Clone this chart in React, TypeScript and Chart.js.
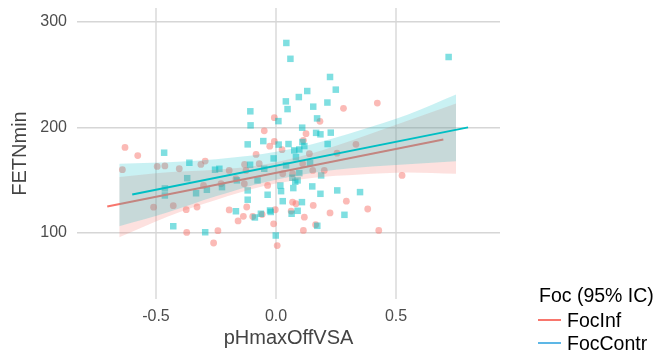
import React, { useEffect, useRef } from "react";
import { Chart, registerables } from "chart.js";

Chart.register(...registerables);

// ---- data ----
const infX = [-0.629, -0.576, -0.64, -0.495, -0.463, -0.403, -0.313, -0.295, -0.131, -0.083, -0.302, -0.51, -0.428, -0.374, -0.329, -0.372, -0.242, -0.26, -0.195, -0.122, -0.158, -0.136, -0.097, -0.058, -0.132, -0.007, -0.049, -0.026, -0.007, -0.003, -0.01, 0.005, 0.069, 0.083, 0.063, 0.118, 0.155, 0.114, 0.165, 0.225, 0.293, 0.382, 0.428, 0.525, 0.281, 0.422, 0.183, 0.125, 0.333, 0.114, -0.07, 0.025, 0.139, 0.111, 0.069, 0.153, 0.201, 0.254, 0.028, -0.167, -0.035, -0.125, -0.195, -0.229];
const infY = [181.0, 173.3, 159.9, 163.0, 163.5, 160.8, 164.9, 168.1, 164.9, 174.4, 145.0, 124.4, 125.9, 122.1, 124.6, 100.5, 102.2, 90.5, 121.8, 124.6, 111.4, 115.8, 115.6, 117.5, 146.6, 209.2, 196.7, 182.2, 186.7, 122.0, 108.7, 88.1, 129.2, 127.7, 120.7, 115.0, 126.1, 102.4, 107.9, 119.0, 130.1, 122.7, 102.4, 154.5, 218.0, 223.0, 205.7, 194.0, 183.9, 187.7, 165.6, 178.9, 175.1, 165.6, 156.1, 159.2, 159.2, 175.6, 156.1, 151.4, 145.0, 159.2, 159.2, 146.6];

const contrX = [-0.466, -0.107, -0.106, -0.118, -0.361, -0.254, -0.37, -0.463, -0.463, -0.333, -0.288, -0.428, -0.295, -0.225, -0.163, -0.167, -0.118, -0.088, -0.118, 0.01, 0.041, 0.048, 0.095, 0.109, -0.053, 0.011, 0.052, 0.11, -0.01, -0.108, -0.035, 0.018, 0.021, 0.072, 0.08, 0.068, 0.028, -0.063, -0.025, -0.022, 0.065, 0.09, -0.001, 0.108, 0.151, 0.185, 0.255, 0.35, 0.285, 0.172, 0.043, 0.06, 0.225, 0.249, 0.13, 0.155, 0.214, 0.719, 0.171, 0.167, 0.185, 0.228, 0.215, 0.076, 0.097, 0.118, 0.083, 0.042, 0.142, 0.097, 0.188, -0.049, 0.09, -0.077, -0.236];
const contrY = [176.0, 215.2, 201.9, 183.9, 166.5, 159.9, 151.9, 142.2, 135.5, 137.6, 140.9, 106.4, 100.7, 143.4, 149.8, 120.6, 131.5, 114.7, 140.3, 205.9, 224.6, 217.3, 228.7, 199.7, 187.0, 183.7, 184.2, 186.1, 170.6, 164.6, 136.2, 145.0, 139.6, 142.5, 148.5, 152.3, 130.1, 118.2, 121.3, 119.9, 118.2, 121.0, 97.6, 129.2, 144.1, 137.1, 140.3, 138.7, 117.2, 106.8, 279.9, 264.9, 247.7, 235.7, 234.4, 219.6, 223.5, 266.6, 208.5, 194.8, 193.4, 195.0, 184.2, 178.2, 179.1, 182.3, 171.8, 164.0, 166.2, 156.7, 154.5, 160.8, 149.8, 149.8, 160.8];

const infLineX = [-0.703, 0.697];
const infLineY = [125.1, 188.6];
const contrLineX = [-0.599, 0.8];
const contrLineY = [136.5, 200.0];

const ribbonX = [-0.653, -0.45, -0.25, -0.05, 0.15, 0.35, 0.55, 0.75];
const infUpper = [153.0, 157.5, 159.9, 164.8, 175.5, 190.4, 206.5, 222.5];
const infLower = [96.0, 115.7, 131.3, 144.4, 152.1, 155.4, 157.3, 156.1];
const contrUpper = [165.6, 166.9, 169.9, 175.0, 184.1, 197.2, 212.2, 231.0];
const contrLower = [106.4, 119.7, 134.7, 147.8, 156.9, 162.0, 165.0, 168.0];

const xTicks = [-0.5, 0, 0.5];
const yTicks = [100, 200, 300];

const seriesNames = ["FocInf", "FocContr"];
const legendTitle = "Foc (95% IC)";

const RED = "#F8766D";
const TEAL = "#00BFC4";
const FONT = '"Liberation Sans", Arial, Helvetica, sans-serif';

const zip = (xs: number[], ys: number[]) => xs.map((x, i) => ({ x, y: ys[i] }));

const legendPlugin = {
  id: "customLegend",
  afterDraw(chart: any) {
    const ctx = chart.ctx;
    ctx.save();
    ctx.fillStyle = "#000";
    ctx.textBaseline = "alphabetic";
    ctx.textAlign = "left";
    ctx.font = `19.5px ${FONT}`;
    ctx.fillText(legendTitle, 539, 302);
    const keys = [RED, "#5DB7E6"];
    const ys = [320, 343];
    keys.forEach((c, i) => {
      ctx.strokeStyle = c;
      ctx.lineWidth = 2;
      ctx.beginPath();
      ctx.moveTo(538, ys[i]);
      ctx.lineTo(561, ys[i]);
      ctx.stroke();
      ctx.fillStyle = "#000";
      ctx.fillText(seriesNames[i], 567, ys[i] + 6.5);
    });
    ctx.restore();
  },
};

export default function App() {
  const ref = useRef<HTMLCanvasElement | null>(null);
  useEffect(() => {
    if (!ref.current) return;
    Chart.defaults.font.family = FONT;
    const chart = new Chart(ref.current, {
      type: "scatter",
      data: {
        datasets: [
          {
            type: "line",
            data: zip(contrLineX, contrLineY),
            borderColor: TEAL,
            borderWidth: 2,
            pointRadius: 0,
            fill: false,
            order: 0,
          } as any,
          {
            type: "line",
            data: zip(ribbonX, contrUpper),
            borderColor: "rgba(0,0,0,0)",
            borderWidth: 0,
            pointRadius: 0,
            backgroundColor: "rgba(0,191,196,0.21)",
            fill: 2,
            cubicInterpolationMode: "monotone",
            order: 1,
          },
          {
            type: "line",
            data: zip(ribbonX, contrLower),
            borderColor: "rgba(0,0,0,0)",
            borderWidth: 0,
            pointRadius: 0,
            fill: false,
            cubicInterpolationMode: "monotone",
            order: 1,
          },
          {
            type: "line",
            data: zip(infLineX, infLineY),
            borderColor: RED,
            borderWidth: 2,
            pointRadius: 0,
            fill: false,
            order: 2,
          },
          {
            type: "line",
            data: zip(ribbonX, infUpper),
            borderColor: "rgba(0,0,0,0)",
            borderWidth: 0,
            pointRadius: 0,
            backgroundColor: "rgba(248,118,109,0.22)",
            fill: 5,
            cubicInterpolationMode: "monotone",
            order: 3,
          },
          {
            type: "line",
            data: zip(ribbonX, infLower),
            borderColor: "rgba(0,0,0,0)",
            borderWidth: 0,
            pointRadius: 0,
            fill: false,
            cubicInterpolationMode: "monotone",
            order: 3,
          },
          {
            type: "scatter",
            data: zip(contrX, contrY),
            pointStyle: "rect",
            pointRadius: 4.6,
            pointBorderWidth: 0,
            backgroundColor: "rgba(0,191,196,0.5)",
            borderColor: "rgba(0,0,0,0)",
            order: 4,
          },
          {
            type: "scatter",
            data: zip(infX, infY),
            pointStyle: "circle",
            pointRadius: 3.4,
            pointBorderWidth: 0,
            backgroundColor: "rgba(248,118,109,0.5)",
            borderColor: "rgba(0,0,0,0)",
            order: 5,
          },
        ] as any,
      },
      options: {
        animation: false,
        responsive: false,
        devicePixelRatio: 1,
        layout: { padding: { top: 8, right: 157, left: 0, bottom: 0 } },
        plugins: {
          legend: { display: false },
          tooltip: { enabled: false },
        },
        scales: {
          x: {
            type: "linear",
            min: -0.829,
            max: 0.933,
            afterBuildTicks: (s: any) => {
              s.ticks = xTicks.map((v) => ({ value: v }));
            },
            afterFit: (s: any) => {
              s.height = 51;
              s.paddingLeft = 0;
              s.paddingRight = 0;
            },
            ticks: {
              padding: 8,
              color: "#4D4D4D",
              font: { size: 16, family: FONT },
              callback: (v: any) => Number(v).toFixed(1),
            },
            grid: { color: "#e3e3e3", lineWidth: 2, drawTicks: false },
            border: { display: false },
            title: {
              display: true,
              text: "pHmaxOffVSA",
              color: "#444",
              font: { size: 20, family: FONT },
              padding: { top: 0, bottom: 0 },
            },
          },
          y: {
            type: "linear",
            min: 37.5,
            max: 313,
            afterBuildTicks: (s: any) => {
              s.ticks = yTicks.map((v) => ({ value: v }));
            },
            afterFit: (s: any) => {
              s.width = 77;
              s.paddingTop = 0;
              s.paddingBottom = 0;
            },
            ticks: {
              padding: 10,
              color: "#4D4D4D",
              font: { size: 16, family: FONT },
            },
            grid: { color: "#d6d6d6", lineWidth: 1.5, drawTicks: false },
            border: { display: false },
            title: {
              display: true,
              text: "FETNmin",
              color: "#444",
              font: { size: 20, family: FONT },
              padding: { top: 8, bottom: 0 },
            },
          },
        },
      } as any,
      plugins: [legendPlugin],
    });
    return () => chart.destroy();
  }, []);
  return (
    <div style={{ position: "fixed", left: 0, top: 0, width: 657, height: 350, background: "#fff" }}>
      <canvas ref={ref} width={657} height={350} style={{ width: 657, height: 350 }} />
    </div>
  );
}
